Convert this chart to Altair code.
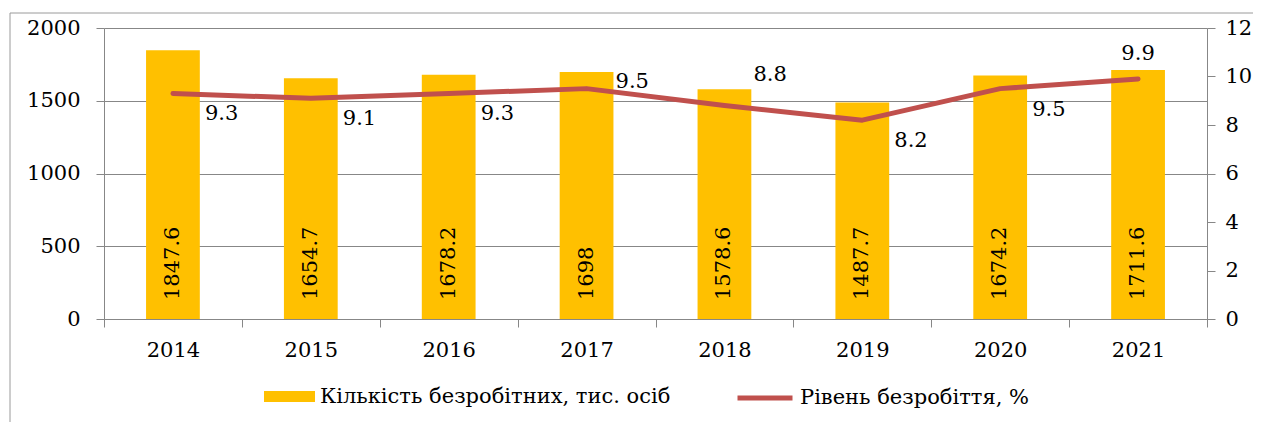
import altair as alt
import pandas as pd

years = ["2014", "2015", "2016", "2017", "2018", "2019", "2020", "2021"]
unemployed = [1847.6, 1654.7, 1678.2, 1698, 1578.6, 1487.7, 1674.2, 1711.6]
rate = [9.3, 9.1, 9.3, 9.5, 8.8, 8.2, 9.5, 9.9]
bar_name = "Кількість безробітних, тис. осіб"
line_name = "Рівень безробіття, %"
left_ticks = [0, 500, 1000, 1500, 2000]
right_ticks = [0, 2, 4, 6, 8, 10, 12]

# label placement groups for the line's data labels
lbl_below_right = ["2014", "2015", "2016", "2019", "2020"]
lbl_right = ["2017"]
lbl_above_right = ["2018"]
lbl_above = ["2021"]

FONT = "DejaVu Serif"
FS = 21
GOLD = "#FFC000"
RED = "#C0504D"
GRAY = "#878787"

df = pd.DataFrame({
    "year": years,
    "unemployed": unemployed,
    "rate": rate,
    "bar_label": [f"{v:g}" for v in unemployed],
    "bar_series": [bar_name] * len(years),
    "line_series": [line_name] * len(years),
})

base = alt.Chart(df)

x = alt.X(
    "year:N",
    sort=years,
    scale=alt.Scale(paddingInner=0, paddingOuter=0),
    axis=alt.Axis(
        title=None, labelAngle=0, tickBand="extent", tickSize=8,
        labelPadding=12, domainColor=GRAY, tickColor=GRAY, grid=False,
    ),
)

y_left = alt.Y(
    "unemployed:Q",
    scale=alt.Scale(domain=[0, 2000], nice=False),
    axis=alt.Axis(
        title=None, values=left_ticks, format="d", tickSize=8, labelPadding=16,
        grid=True, gridColor=GRAY, domainColor=GRAY, tickColor=GRAY,
    ),
)

bars = base.mark_bar(width={"band": 0.39}).encode(
    x=x,
    y=y_left,
    fill=alt.Fill(
        "bar_series:N",
        scale=alt.Scale(domain=[bar_name], range=[GOLD]),
        legend=alt.Legend(
            title=None, orient="none", legendX=160, legendY=343,
            symbolType="M-1,-0.22H1V0.22H-1Z", symbolSize=2601,
            symbolStrokeWidth=0, labelOffset=5, labelFontSize=FS,
            labelFont=FONT, labelColor="black", labelLimit=600,
        ),
    ),
)

bar_text = base.mark_text(
    angle=270, align="left", baseline="middle", dx=19,
    fontSize=FS, font=FONT, color="black",
).encode(x=x, y=alt.datum(0), text="bar_label:N")

frame = alt.Chart(pd.DataFrame({"f": [0]})).mark_rect(
    fill="transparent", stroke="#9a9a9a", strokeWidth=1,
).encode(
    x=alt.value(-94), x2=alt.value(1170), y=alt.value(-15), y2=alt.value(430)
)

left = alt.layer(frame, bars, bar_text)

y_right = alt.Y(
    "rate:Q",
    scale=alt.Scale(domain=[0, 12], nice=False),
    axis=alt.Axis(
        title=None, orient="right", values=right_ticks, format="d", tickSize=8,
        labelPadding=10, grid=False, domainColor=GRAY, tickColor=GRAY,
    ),
)

line = base.mark_line(strokeWidth=5, strokeCap="round", strokeJoin="round").encode(
    x=x,
    y=y_right,
    stroke=alt.Stroke(
        "line_series:N",
        scale=alt.Scale(domain=[line_name], range=[RED]),
        legend=alt.Legend(
            title=None, orient="none", legendX=631, legendY=340,
            symbolType="M-1,0H1", symbolSize=3025, symbolStrokeWidth=5,
            labelOffset=5, labelFontSize=FS, labelFont=FONT,
            labelColor="black", labelLimit=600,
        ),
    ),
)


def rate_labels(group, align, dx, dy):
    return base.transform_filter(
        alt.FieldOneOfPredicate(field="year", oneOf=group)
    ).mark_text(
        align=align, baseline="middle", dx=dx, dy=dy,
        fontSize=FS, font=FONT, color="black",
    ).encode(x=x, y=y_right, text=alt.Text("rate:Q", format=".1f"))


right = alt.layer(
    line,
    rate_labels(lbl_below_right, "left", 32, 21),
    rate_labels(lbl_right, "left", 29, -7),
    rate_labels(lbl_above_right, "left", 29, -31),
    rate_labels(lbl_above, "center", 0, -25),
)

chart = alt.layer(left, right).resolve_scale(
    y="independent", fill="independent", stroke="independent"
).properties(
    width=1103, height=291,
    autosize=alt.AutoSizeParams(type="none"),
    padding={"left": 96, "top": 20, "right": 46, "bottom": 103},
).configure_view(strokeOpacity=0).configure_axis(
    labelFont=FONT, labelFontSize=FS, labelColor="black",
)

chart.save("out.html", embed_options={"renderer": "svg", "actions": False})
